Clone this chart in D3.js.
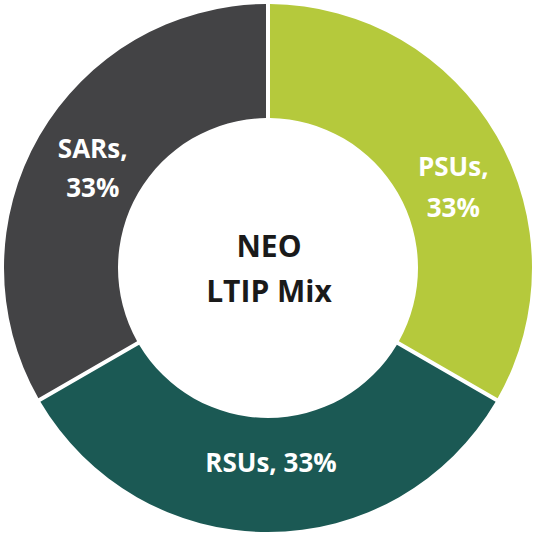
<!DOCTYPE html>
<html><head><meta charset="utf-8">
<script src="https://cdn.jsdelivr.net/npm/d3@7"></script>
<style>html,body{margin:0;padding:0;background:#fff;}svg{display:block;}</style>
</head><body>
<svg id="chart" width="536" height="536"></svg>
<script>
const categories = ["PSUs", "RSUs", "SARs"];
const values = [33, 33, 33];
const labelLines = [["PSUs,", "33%"], ["RSUs, 33%"], ["SARs,", "33%"]];
const centerTitle = ["NEO", "LTIP Mix"];
const colors = ["#b5c93c", "#1b5954", "#434345"];

const W = 536, H = 536, cx = 268, cy = 268;
const outerR = 264, innerR = 150;
const svg = d3.select("#chart");
const g = svg.append("g").attr("transform", `translate(${cx},${cy})`);

const pie = d3.pie().sort(null).value(d => d)(values);
const arc = d3.arc().innerRadius(innerR).outerRadius(outerR)
  .padAngle(4 / outerR).padRadius(outerR);
const color = d3.scaleOrdinal().domain(categories).range(colors);

g.selectAll("path.slice").data(pie).join("path")
  .attr("class", "slice")
  .attr("d", arc)
  .attr("fill", (d, i) => color(categories[i]));

// label placement tweaks relative to arc centroid (dx, first baseline dy, line step)
const labelLayout = [
  {dx: 6, dy: 11, step: 41},
  {dx: 3, dy: -3, step: 0},
  {dx: 4, dy: -7, step: 39}
];
const font = "'Open Sans', sans-serif";
pie.forEach((d, i) => {
  const [x, y] = arc.centroid(d);
  const L = labelLayout[i];
  const t = g.append("text")
    .attr("text-anchor", "middle")
    .attr("font-family", font)
    .attr("font-weight", 700)
    .attr("font-size", 26)
    .attr("fill", "#ffffff");
  labelLines[i].forEach((line, k) => {
    t.append("tspan").attr("x", x + L.dx).attr("y", y + L.dy + k * L.step).text(line);
  });
});

const ct = g.append("text")
  .attr("text-anchor", "middle")
  .attr("font-family", font)
  .attr("font-weight", 700)
  .attr("font-size", 30)
  .attr("fill", "#1a1a1a");
centerTitle.forEach((line, k) => {
  ct.append("tspan").attr("x", 1).attr("y", -11 + k * 45).text(line);
});
</script>
</body></html>
